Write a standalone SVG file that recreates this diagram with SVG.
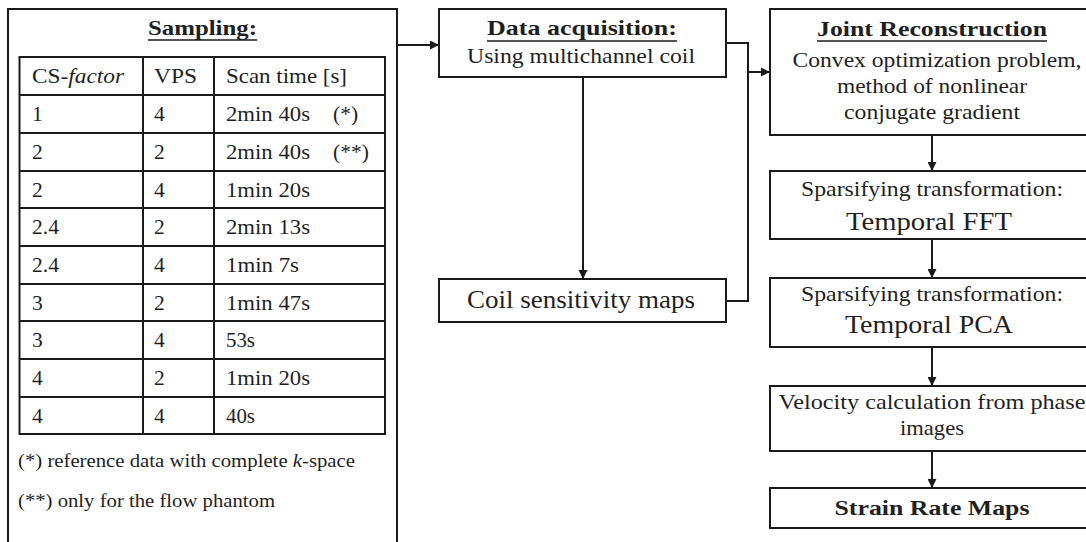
<svg xmlns="http://www.w3.org/2000/svg" width="1086" height="542" viewBox="0 0 1086 542" font-family="'Liberation Serif', 'Times New Roman', serif">
  <defs>
    <marker id="arrow" markerUnits="userSpaceOnUse" markerWidth="9" markerHeight="9" viewBox="0 0 10 10" refX="10" refY="5" orient="auto">
      <path d="M0,0 L10,5 L0,10 z" fill="#1a1a1a"/>
    </marker>
    <style>
      .box { fill: #ffffff; stroke: #1a1a1a; stroke-width: 2; }
      .grid { stroke: #1a1a1a; stroke-width: 2; fill: none; }
      .wire { stroke: #1a1a1a; stroke-width: 2; fill: none; }
      .ul { stroke: #1a1a1a; stroke-width: 1.6; }
      text { font-family: 'Liberation Serif', 'Times New Roman', serif; fill: #1f1f1f; }
      .title { font-weight: bold; font-size: 21px; text-anchor: middle; }
      .body { font-size: 22px; text-anchor: middle; }
      .big { font-size: 25px; text-anchor: middle; }
      .cell { font-size: 21.5px; }
      .note { font-size: 19px; }
    </style>
  </defs>

  <rect width="1086" height="542" fill="#ffffff"/>

  <!-- Sampling panel with parameter table -->
  <g id="sampling" font-family="'Liberation Serif', serif">
    <rect class="box" x="8" y="9" width="389" height="540"/>
    <text class="title" x="202.5" y="35" textLength="109" lengthAdjust="spacingAndGlyphs">Sampling:</text>
    <line class="ul" x1="148" y1="40" x2="257" y2="40"/>

    <g class="grid">
      <rect x="19.5" y="57" width="365.5" height="377"/>
      <line x1="19.5" y1="95" x2="385" y2="95"/>
      <line x1="19.5" y1="133" x2="385" y2="133"/>
      <line x1="19.5" y1="171" x2="385" y2="171"/>
      <line x1="19.5" y1="208" x2="385" y2="208"/>
      <line x1="19.5" y1="246" x2="385" y2="246"/>
      <line x1="19.5" y1="284" x2="385" y2="284"/>
      <line x1="19.5" y1="321" x2="385" y2="321"/>
      <line x1="19.5" y1="359" x2="385" y2="359"/>
      <line x1="19.5" y1="397" x2="385" y2="397"/>
      <line x1="143" y1="57" x2="143" y2="434"/>
      <line x1="214" y1="57" x2="214" y2="434"/>
    </g>

    <g class="cell" font-family="'Liberation Serif', serif">
      <text x="32" y="83" textLength="92" lengthAdjust="spacingAndGlyphs">CS-<tspan font-style="italic">factor</tspan></text>
      <text x="154" y="83" textLength="43" lengthAdjust="spacingAndGlyphs">VPS</text>
      <text x="226" y="83" textLength="121" lengthAdjust="spacingAndGlyphs">Scan time [s]</text>

      <text x="32" y="121">1</text>
      <text x="154" y="121">4</text>
      <text x="226" y="121" textLength="84" lengthAdjust="spacingAndGlyphs">2min 40s</text>
      <text x="333" y="121">(*)</text>

      <text x="32" y="159">2</text>
      <text x="154" y="159">2</text>
      <text x="226" y="159" textLength="84" lengthAdjust="spacingAndGlyphs">2min 40s</text>
      <text x="333" y="159">(**)</text>

      <text x="32" y="197">2</text>
      <text x="154" y="197">4</text>
      <text x="226" y="197" textLength="84" lengthAdjust="spacingAndGlyphs">1min 20s</text>

      <text x="32" y="234">2.4</text>
      <text x="154" y="234">2</text>
      <text x="226" y="234" textLength="84" lengthAdjust="spacingAndGlyphs">2min 13s</text>

      <text x="32" y="272">2.4</text>
      <text x="154" y="272">4</text>
      <text x="226" y="272" textLength="73" lengthAdjust="spacingAndGlyphs">1min 7s</text>

      <text x="32" y="310">3</text>
      <text x="154" y="310">2</text>
      <text x="226" y="310" textLength="84" lengthAdjust="spacingAndGlyphs">1min 47s</text>

      <text x="32" y="347">3</text>
      <text x="154" y="347">4</text>
      <text x="226" y="347" textLength="29" lengthAdjust="spacingAndGlyphs">53s</text>

      <text x="32" y="385">4</text>
      <text x="154" y="385">2</text>
      <text x="226" y="385" textLength="84" lengthAdjust="spacingAndGlyphs">1min 20s</text>

      <text x="32" y="423">4</text>
      <text x="154" y="423">4</text>
      <text x="226" y="423" textLength="29" lengthAdjust="spacingAndGlyphs">40s</text>
    </g>

    <text class="note" x="18" y="467" textLength="337" lengthAdjust="spacingAndGlyphs">(*) reference data with complete <tspan font-style="italic">k</tspan>-space</text>
    <text class="note" x="18" y="507" textLength="257" lengthAdjust="spacingAndGlyphs">(**) only for the flow phantom</text>
  </g>

  <!-- Acquisition -->
  <g id="data-acquisition" font-family="'Liberation Serif', serif">
    <rect class="box" x="439" y="9" width="287" height="68"/>
    <text class="title" x="582" y="35" textLength="190" lengthAdjust="spacingAndGlyphs">Data acquisition:</text>
    <line class="ul" x1="487" y1="41" x2="677" y2="41"/>
    <text class="body" x="581" y="63" textLength="228" lengthAdjust="spacingAndGlyphs">Using multichannel coil</text>
  </g>

  <g id="coil-sensitivity" font-family="'Liberation Serif', serif">
    <rect class="box" x="439" y="279" width="287" height="43"/>
    <text class="big" x="581" y="308" textLength="228" lengthAdjust="spacingAndGlyphs">Coil sensitivity maps</text>
  </g>

  <!-- Reconstruction chain -->
  <g id="joint-reconstruction" font-family="'Liberation Serif', serif">
    <rect class="box" x="770" y="9" width="330" height="126"/>
    <text class="title" x="932" y="36" textLength="230" lengthAdjust="spacingAndGlyphs">Joint Reconstruction</text>
    <line class="ul" x1="817" y1="41" x2="1047" y2="41"/>
    <text class="body" x="937" y="67" textLength="289" lengthAdjust="spacingAndGlyphs">Convex optimization problem,</text>
    <text class="body" x="932" y="93" textLength="190" lengthAdjust="spacingAndGlyphs">method of nonlinear</text>
    <text class="body" x="932" y="119" textLength="176" lengthAdjust="spacingAndGlyphs">conjugate gradient</text>
  </g>

  <g id="sparsify-fft" font-family="'Liberation Serif', serif">
    <rect class="box" x="770" y="171" width="330" height="68"/>
    <text class="body" x="932" y="196" textLength="262" lengthAdjust="spacingAndGlyphs">Sparsifying transformation:</text>
    <text class="big" x="929" y="230" textLength="166" lengthAdjust="spacingAndGlyphs">Temporal FFT</text>
  </g>

  <g id="sparsify-pca" font-family="'Liberation Serif', serif">
    <rect class="box" x="770" y="278" width="330" height="69"/>
    <text class="body" x="932" y="301" textLength="262" lengthAdjust="spacingAndGlyphs">Sparsifying transformation:</text>
    <text class="big" x="929" y="333" textLength="168" lengthAdjust="spacingAndGlyphs">Temporal PCA</text>
  </g>

  <g id="velocity" font-family="'Liberation Serif', serif">
    <rect class="box" x="770" y="386" width="330" height="65"/>
    <text class="body" x="932" y="409" textLength="307" lengthAdjust="spacingAndGlyphs">Velocity calculation from phase</text>
    <text class="body" x="932" y="435" textLength="64" lengthAdjust="spacingAndGlyphs">images</text>
  </g>

  <g id="strain-rate" font-family="'Liberation Serif', serif">
    <rect class="box" x="770" y="488" width="330" height="40"/>
    <text class="title" x="932" y="515" textLength="195" lengthAdjust="spacingAndGlyphs">Strain Rate Maps</text>
  </g>

  <!-- Connectors -->
  <g id="connectors">
    <line class="wire" x1="397" y1="45" x2="439" y2="45" marker-end="url(#arrow)"/>
    <line class="wire" x1="583" y1="77" x2="583" y2="279" marker-end="url(#arrow)"/>
    <path class="wire" d="M726,43 H748 V301 H726"/>
    <line class="wire" x1="748" y1="72" x2="770" y2="72" marker-end="url(#arrow)"/>
    <line class="wire" x1="932" y1="135" x2="932" y2="171" marker-end="url(#arrow)"/>
    <line class="wire" x1="932" y1="239" x2="932" y2="278" marker-end="url(#arrow)"/>
    <line class="wire" x1="932" y1="347" x2="932" y2="386" marker-end="url(#arrow)"/>
    <line class="wire" x1="932" y1="451" x2="932" y2="488" marker-end="url(#arrow)"/>
  </g>
</svg>
